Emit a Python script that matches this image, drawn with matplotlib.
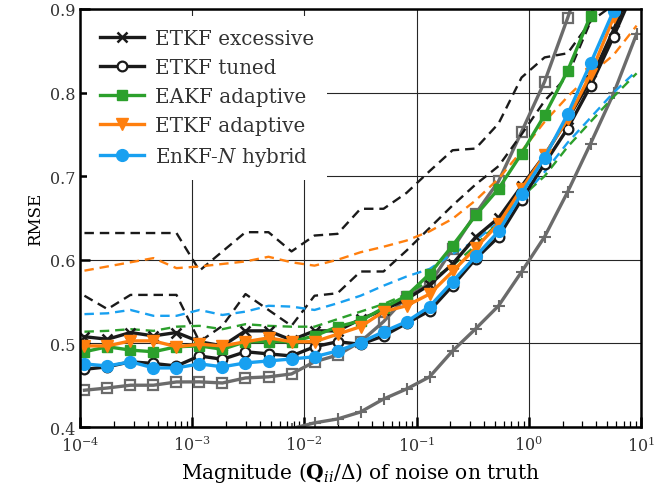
import numpy as np
from matplotlib import pyplot as plt

plt.rcParams['font.family'] = ['DejaVu Serif']
plt.rcParams['mathtext.fontset'] = 'dejavuserif'
plt.rcParams['text.color'] = '0.2'
plt.rcParams['xtick.labelcolor'] = '0.2'
plt.rcParams['ytick.labelcolor'] = '0.2'

# noise magnitudes (log10)
x_exp = [-3.96, -3.755, -3.55, -3.345, -3.14, -2.935, -2.73, -2.525, -2.32, -2.115,
         -1.91, -1.705, -1.5, -1.295, -1.09, -0.885, -0.68, -0.475, -0.27, -0.065,
         0.14, 0.345, 0.55, 0.755, 0.96]
q = 10.0 ** np.array(x_exp)

etkf_excessive = [.508, .505, .513, .509, .513, .502, .497, .515, .515, .504,
                  .515, .515, .529, .540, .553, .570, .595, .627, .650, .688,
                  .725, .768, .815, .875, .940]
etkf_tuned = [.469, .472, .478, .476, .473, .485, .481, .490, .4875, .485,
              .496, .502, .499, .509, .524, .539, .569, .601, .6275, .672,
              .715, .757, .808, .867, .930]
eakf_adaptive = [.490, .496, .492, .490, .496, .497, .493, .502, .502, .502,
                 .509, .520, .527, .5425, .557, .583, .617, .653, .685, .727,
                 .773, .826, .892, .960, 1.03]
etkf_adaptive = [.497, .497, .503, .503, .496, .499, .497, .502, .5066, .502,
                 .502, .511, .520, .538, .545, .559, .586, .614, .643, .685,
                 .725, .768, .822, .890, .950]
enkfn_hybrid = [.4755, .473, .478, .4707, .4707, .4755, .472, .4767, .479, .4814,
                .484, .491, .501, .514, .526, .544, .574, .604, .634, .679,
                .722, .774, .835, .898, .970]
grey_squares = [.444, .4467, .450, .450, .4539, .454, .4527, .4587, .460, .4635,
                .478, .486, .502, .526, .556, .571, .613, .655, .694, .753,
                .813, .889, .970, np.nan, np.nan]
grey_plus = [np.nan] * 9 + [.398, .405, .4096, .418, .4335, .4455, .460, .491,
                            .5174, .545, .5856, .6275, .681, .739, .799, .870]

# dashed companions
dash_black_hi = [.632, .632, .632, .632, .632, .587, .610, .633, .633, .610,
                 .629, .631, .661, .661, .680, .706, .731, .733, .763, .818,
                 .842, .847, .885, .905, .930]
dash_black_lo = [.557, .541, .558, .558, .558, .502, .521, .559, .540, .521,
                 .557, .560, .586, .586, .611, .638, .665, .690, .712, .750,
                 .790, .820, .885, .950, 1.0]
dash_orange = [.587, .592, .597, .602, .590, .592, .595, .598, .6036, .597,
               .593, .600, .609, .6156, .623, .634, .649, .671, .697, .730,
               .765, .795, .822, .845, .880]
dash_blue = [.535, .536, .540, .533, .533, .540, .534, .538, .545, .544,
             .540, .548, .557, .569, .580, .589, .607, .623, .645, .673,
             .705, .740, .770, .800, .826]
dash_green = [.514, .515, .517, .515, .520, .521, .517, .523, .521, .520,
              .520, .529, .538, .547, .559, .575, .593, .617, .645, .675,
              .700, .735, .765, .795, .823]

green = '#2ca02c'
orange = '#ff7f0e'
blue = '#18a0f0'
grey = '0.42'

fig = plt.figure(figsize=(6.72, 4.89), dpi=100)
ax = fig.add_axes([0.119, 0.1247, 0.835, 0.855])

lw = 2.4
ax.plot(q, grey_plus, color=grey, lw=lw, marker='+', ms=8, mew=1.5)
ax.plot(q, grey_squares, color=grey, lw=lw, marker='s', ms=7.5, mew=1.6,
        mfc='none')

dlw = 1.7
dash = (4.0, 2.5)
ax.plot(q, dash_black_hi, color='0.1', lw=dlw, dashes=dash)
ax.plot(q, dash_black_lo, color='0.1', lw=dlw, dashes=dash)
ax.plot(q, dash_orange, color=orange, lw=dlw, dashes=dash)
ax.plot(q, dash_blue, color=blue, lw=dlw, dashes=dash)
ax.plot(q, dash_green, color=green, lw=dlw, dashes=dash)

ax.plot(q, etkf_excessive, color='0.1', lw=lw, marker='x', ms=7, mew=1.8,
        label='ETKF excessive')
ax.plot(q, etkf_tuned, color='0.1', lw=lw, marker='o', ms=7, mew=1.6,
        mfc='white', label='ETKF tuned')
ax.plot(q, eakf_adaptive, color=green, lw=lw, marker='s', ms=7.5,
        label='EAKF adaptive')
ax.plot(q, etkf_adaptive, color=orange, lw=lw, marker='v', ms=8.5,
        label='ETKF adaptive')
ax.plot(q, enkfn_hybrid, color=blue, lw=lw, marker='o', ms=8.5,
        label='EnKF-$N$ hybrid')

ax.set_xscale('log')
ax.set_xlim(1e-4, 1e1)
ax.set_ylim(0.4, 0.9)
ax.set_yticks([0.4, 0.5, 0.6, 0.7, 0.8, 0.9])
ax.grid(True, which='major', color='0.15', lw=0.8)
ax.set_axisbelow(True)

for s in ax.spines.values():
    s.set_linewidth(1.8)
ax.tick_params(which='major', direction='in', length=7, width=1.8,
               labelsize=11.5, top=False, right=False)
ax.tick_params(which='minor', direction='in', length=4, width=0.9)
ax.tick_params(axis='x', pad=6)

ax.set_xlabel(r'Magnitude ($\mathbf{Q}_{ii}/\Delta$) of noise on truth',
              fontsize=14.5)
ax.set_ylabel('RMSE', fontsize=12)

leg = ax.legend(loc='upper left', frameon=True, fontsize=14.3, handlelength=2.2,
                handletextpad=0.6, borderaxespad=0.35, borderpad=0.65,
                labelspacing=0.5, fancybox=False, framealpha=1)
leg.get_frame().set_edgecolor('none')
leg.get_frame().set_facecolor('white')

fig.savefig('out.png', dpi=100)
